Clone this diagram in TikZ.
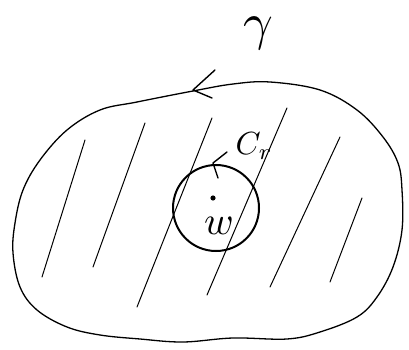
\documentclass[tikz,border=0pt]{standalone}
\usetikzlibrary{arrows.meta,calc}
\begin{document}
\begin{tikzpicture}[
  x=1pt, y=-1pt,
  outline/.style={line width=1.3pt, line join=round, line cap=round},
  hatch/.style={line width=1pt, line cap=round},
  smallloop/.style={line width=2pt},
  tip/.style={line width=1.4pt, line cap=round, line join=round},
  biglabel/.style={inner sep=0pt, scale=5.2},
  midlabel/.style={inner sep=0pt, scale=3.2}
]
\useasboundingbox (0,0) rectangle (409,350);

% region gamma
\draw[outline] plot[smooth cycle, tension=0.6] coordinates {
  (193,91) (137,102) (100,110) (67,130) (40,160) (23,190) (15,223) (13,253)
  (20,287) (37,310) (67,327) (100,335) (140,339) (183,342) (233,338)
  (287,339) (320,332) (357,317) (377,297) (393,267) (402,230) (402,190)
  (398,163) (383,137) (357,110) (320,90) (270,82) (233,84)};
\draw[tip] (215,70) -- (193,90) -- (212,98);

% hatching
\foreach \xa/\ya/\xb/\yb in {85/140/42/277, 145/123/93/267, 212/118/137/307,
  287/108/207/295, 340/137/270/287, 362/198/330/282}
  \draw[hatch] (\xa,\ya) -- (\xb,\yb);

% small circle around w
\coordinate (wpt) at (213,198);
\draw[smallloop] (216,208) circle[radius=43];
\draw[tip] (227,152) -- (213,163) -- (218,178);
\fill (wpt) circle[radius=2.6];

\node[biglabel] (gamma) at (258,33) {$\gamma$};
\node[midlabel, anchor=west] (cr) at (235,146) {$C_r$};
\node[midlabel, scale=1.25] (w) at (219,226) {$w$};

\end{tikzpicture}
\end{document}
